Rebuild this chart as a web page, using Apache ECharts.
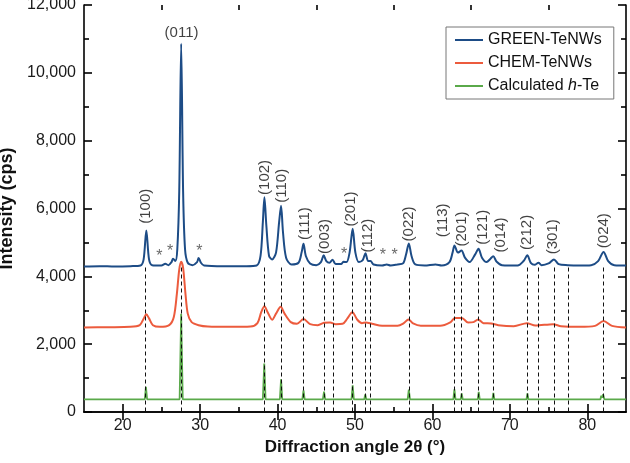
<!DOCTYPE html>
<html>
<head>
<meta charset="utf-8">
<script src="https://cdn.jsdelivr.net/npm/echarts@6/dist/echarts.min.js"></script>
<style>
html,body{margin:0;padding:0;background:#fff;}
#chart{width:630px;height:463px;}
</style>
</head>
<body>
<div id="chart"></div>
<script>
// ---- Data ----
const xTicks = [20, 30, 40, 50, 60, 70, 80];
const xMinorTicks = [25, 35, 45, 55, 65, 75];
const yTicks = [0, 2000, 4000, 6000, 8000, 10000, 12000];

// GREEN-TeNWs pattern [2θ, intensity]
const greenTeNWs = [
  [15,4290],[17,4300],[19,4290],[21,4300],[22.3,4320],[22.7,4500],[23.05,5350],[23.4,4500],[23.8,4330],
  [25.0,4320],[25.5,4370],[25.9,4330],[26.3,4420],[26.5,4520],[26.8,4450],[27.05,4800],[27.3,6500],
  [27.55,10860],[27.8,6500],[28.05,4800],[28.4,4400],[29.0,4330],[29.6,4420],[29.8,4540],[30.1,4400],
  [30.5,4320],[33,4300],[36,4300],[37.3,4320],[37.8,4600],[38.1,5600],[38.3,6330],[38.55,5500],
  [38.9,4600],[39.3,4500],[39.8,4700],[40.2,5600],[40.45,6080],[40.7,5300],[41.1,4550],[41.8,4350],
  [42.7,4400],[43.1,4700],[43.35,4960],[43.65,4600],[44.2,4380],[45,4330],[45.6,4420],[45.95,4620],
  [46.3,4450],[46.7,4400],[47.1,4490],[47.5,4360],[48.2,4360],[48.5,4430],[48.9,4420],[49.3,4700],
  [49.7,5400],[50.05,4700],[50.5,4420],[51.0,4480],[51.35,4680],[51.7,4450],[52.0,4450],[52.4,4350],
  [53.5,4320],[54.1,4350],[54.6,4320],[55.5,4350],[56.2,4380],[56.6,4650],[56.95,4970],[57.3,4600],
  [57.8,4350],[59,4320],[60.4,4350],[61.2,4320],[62.2,4420],[62.6,4700],[62.85,4910],[63.3,4700],
  [63.75,4760],[64.2,4550],[64.8,4420],[65.5,4640],[65.95,4810],[66.4,4550],[67.0,4420],[67.5,4520],
  [67.85,4590],[68.3,4430],[69,4330],[71,4320],[71.8,4460],[72.25,4620],[72.7,4400],[73.2,4340],
  [73.7,4400],[74.1,4330],[75.0,4380],[75.7,4500],[76.3,4360],[77.5,4330],[79,4320],[80.5,4330],
  [81.4,4450],[82.1,4720],[82.7,4450],[83.5,4330],[85,4320]
];

// CHEM-TeNWs pattern
const chemTeNWs = [
  [15,2490],[18,2500],[21,2510],[22.2,2560],[22.7,2750],[23.05,2880],[23.4,2760],[23.9,2560],[24.8,2510],
  [26.0,2560],[26.6,2800],[27.0,3500],[27.3,4200],[27.55,4430],[27.8,4250],[28.1,3500],[28.4,2900],
  [28.9,2650],[29.8,2560],[31,2520],[34,2510],[36.5,2520],[37.4,2620],[37.9,2950],[38.3,3120],
  [38.7,2950],[39.3,2720],[39.8,2900],[40.4,3100],[40.9,2900],[41.7,2650],[42.5,2600],[43.35,2740],
  [44.2,2590],[45.2,2560],[46.0,2630],[46.8,2640],[47.5,2590],[48.4,2600],[49.0,2750],[49.65,2940],
  [50.3,2720],[50.9,2620],[51.4,2640],[52.2,2600],[53.5,2540],[55.5,2540],[56.3,2620],[56.9,2730],
  [57.5,2610],[58.5,2540],[61,2540],[62.3,2640],[62.9,2770],[63.8,2770],[64.6,2640],[65.3,2650],
  [65.9,2730],[66.6,2620],[67.6,2610],[68.5,2560],[70.5,2530],[72.2,2620],[73.3,2550],[75.6,2590],
  [76.6,2530],[79,2510],[81,2540],[82.1,2680],[83.2,2540],[85,2490]
];

// Calculated h-Te pattern
const calcTe = [
  [15,375],[22.85,375],[23.0,740],[23.15,375],[27.35,375],[27.55,2900],[27.75,375],[38.1,375],[38.28,1430],
  [38.45,375],[40.3,375],[40.45,965],[40.6,375],[43.2,375],[43.35,640],[43.5,375],[45.85,375],[46.0,600],
  [46.15,375],[49.55,375],[49.7,790],[49.85,375],[51.2,375],[51.32,520],[51.45,375],[56.8,375],[56.95,660],
  [57.1,375],[62.7,375],[62.84,670],[62.98,375],[63.65,375],[63.78,545],[63.91,375],[65.85,375],[65.98,590],
  [66.11,375],[67.75,375],[67.87,560],[68.0,375],[72.15,375],[72.27,545],[72.4,375],[81.7,375],[81.8,480],
  [81.9,420],[82.05,520],[82.2,375],[85,375]
];

// Reference (dashed) peak positions
const refPositions = [22.97,27.55,38.3,40.5,43.35,46.0,47.13,49.7,51.31,52.0,56.95,62.84,63.78,65.98,67.87,72.26,73.72,75.74,77.5,82.1];
const refTop = 4260;

// Miller index labels: [2θ, intensity at text base, text]
const hklVertical = [
  [23.05,5550,'(100)'],[38.35,6400,'(102)'],[40.5,6170,'(110)'],[43.55,5070,'(111)'],[46.1,4660,'(003)'],
  [49.5,5470,'(201)'],[51.6,4700,'(112)'],[56.9,5030,'(022)'],[61.4,5150,'(113)'],[63.8,4880,'(201)'],
  [66.5,4930,'(121)'],[68.8,4700,'(014)'],[72.2,4780,'(212)'],[75.5,4650,'(301)'],[82.2,4830,'(024)']
];
const hklHorizontal = [[27.6,10950,'(011)']];
// Impurity markers
const stars = [[24.74,4580],[26.11,4730],[29.9,4740],[48.6,4630],[53.6,4600],[55.1,4600]];

const FONT = 'Liberation Sans, Arial, Helvetica, sans-serif';
const chart = echarts.init(document.getElementById('chart'), null, {renderer:'canvas'});

const axisLineStyle = {color:'#000', width:1.6};
const tickLine = {color:'#000', width:1.6};
function xAx(pos, major, withLabel){
  const a = {
    type:'value', min:15, max:85, interval:5, position:pos,
    axisLine:{show:major, lineStyle:axisLineStyle},
    axisTick:{show:true, inside:true, length: major ? 8 : 5, lineStyle:tickLine,
      customValues: major ? xTicks : xMinorTicks},
    axisLabel:{show:false},
    splitLine:{show:false}
  };
  if (withLabel){
    a.axisLabel = {show:true, customValues:xTicks, fontFamily:FONT, fontSize:16, color:'#1a1a1a', margin:6};
    a.name = 'Diffraction angle 2θ (°)';
    a.nameLocation = 'middle';
    a.nameGap = 27;
    a.nameTextStyle = {fontFamily:FONT, fontSize:17, fontWeight:'bold', color:'#111'};
  }
  return a;
}
const option = {
  animation:false,
  backgroundColor:'#fff',
  textStyle:{fontFamily:FONT},
  grid:{left:84, right:4, top:5, bottom:51, containLabel:false, outerBoundsMode:'none'},
  legend:{
    data:['GREEN-TeNWs','CHEM-TeNWs','Calculated h-Te'],
    orient:'vertical', left:446, top:27, icon:'rect',
    padding:[4,12,4,9], itemGap:5, itemWidth:28, itemHeight:2,
    borderColor:'#777', borderWidth:1, backgroundColor:'#fff',
    textStyle:{fontFamily:FONT, fontSize:16, color:'#111', lineHeight:18,
      rich:{i:{fontStyle:'italic', fontFamily:FONT, fontSize:16, color:'#111', lineHeight:18}}},
    formatter:function(n){ return n==='Calculated h-Te' ? 'Calculated {i|h}-Te' : n; }
  },
  xAxis:[xAx('bottom', true, true), xAx('top', true, false), xAx('bottom', false, false), xAx('top', false, false)],
  yAxis:[{
    type:'value', min:0, max:12000, interval:2000, position:'left',
    axisLine:{show:true, lineStyle:axisLineStyle},
    axisTick:{show:true, inside:true, length:8, lineStyle:tickLine},
    minorTick:{show:true, splitNumber:2, length:5, lineStyle:tickLine},
    axisLabel:{fontFamily:FONT, fontSize:16, color:'#1a1a1a', margin:8,
      formatter:function(v){return yTicks.indexOf(v)>=0 ? v.toLocaleString('en-US') : '';}},
    splitLine:{show:false},
    name:'Intensity (cps)', nameLocation:'middle', nameGap:66, nameRotate:90,
    nameTextStyle:{fontFamily:FONT, fontSize:18, fontWeight:'bold', color:'#111'}
  },{
    type:'value', min:0, max:12000, interval:2000, position:'right',
    axisLine:{show:true, lineStyle:axisLineStyle},
    axisTick:{show:true, inside:true, length:8, lineStyle:tickLine},
    minorTick:{show:true, splitNumber:2, length:5, lineStyle:tickLine},
    axisLabel:{show:false}, splitLine:{show:false}
  }],
  series:[
    {name:'GREEN-TeNWs', type:'line', data:greenTeNWs, symbol:'none', smooth:0.3, z:5,
      lineStyle:{color:'#1d4c86', width:2}, itemStyle:{color:'#1d4c86'}},
    {name:'CHEM-TeNWs', type:'line', data:chemTeNWs, symbol:'none', smooth:0.3, z:4,
      lineStyle:{color:'#ec5b3d', width:2}, itemStyle:{color:'#ec5b3d'}},
    {name:'Calculated h-Te', type:'line', data:calcTe, symbol:'none', z:3,
      lineStyle:{color:'#5aa94a', width:1.8}, itemStyle:{color:'#5aa94a'}},
    {name:'refLines', type:'scatter', data:[], z:2, silent:true,
      markLine:{silent:true, symbol:['none','none'], label:{show:false},
        lineStyle:{color:'#111', width:1, type:[4,3]},
        data:refPositions.map(function(p){return [{coord:[p,refTop]},{coord:[p,0]}];})}},
    {name:'hklV', type:'scatter', silent:true, symbolSize:0, z:6,
      data:hklVertical.map(function(d){return {value:[d[0],d[1]], name:d[2]};}),
      label:{show:true, position:[0,0], rotate:90, align:'left', verticalAlign:'middle',
        fontFamily:FONT, fontSize:15, color:'#111', formatter:function(p){return p.name;}}},
    {name:'hklH', type:'scatter', silent:true, symbolSize:0, z:6,
      data:hklHorizontal.map(function(d){return {value:[d[0],d[1]], name:d[2]};}),
      label:{show:true, position:[0,0], align:'center', verticalAlign:'bottom',
        fontFamily:FONT, fontSize:15, color:'#111', formatter:function(p){return p.name;}}},
    {name:'stars', type:'scatter', silent:true, symbolSize:0, z:6,
      data:stars,
      label:{show:true, position:[0,0], align:'center', verticalAlign:'middle',
        fontFamily:FONT, fontSize:16, color:'#444', formatter:function(){return '*';}}}
  ]
};
chart.setOption(option);
</script>
</body>
</html>
